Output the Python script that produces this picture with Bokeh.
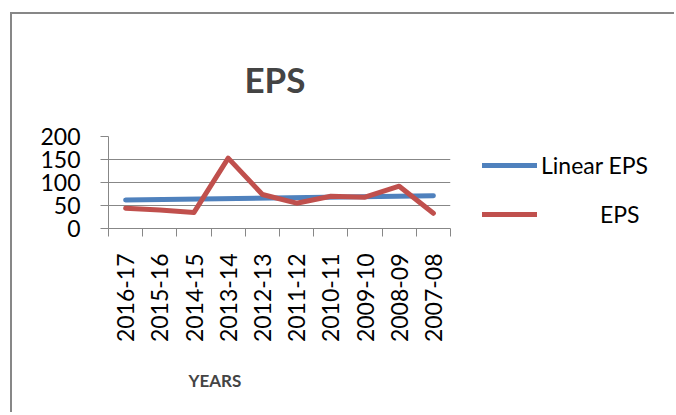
import math
from bokeh.plotting import figure
from bokeh.layouts import row
from bokeh.models import Range1d, FixedTicker, Legend, LegendItem, Title
from bokeh.embed import file_html
from bokeh.resources import INLINE

years = ["2016-17", "2015-16", "2014-15", "2013-14", "2012-13",
         "2011-12", "2010-11", "2009-10", "2008-09", "2007-08"]
eps = [44, 40, 35, 153, 74, 55, 70, 68, 92, 33]
trend_years = ["2016-17", "2007-08"]
trend_eps = [62, 71]
y_ticks = [0, 50, 100, 150, 200]
legend_labels = ["Linear EPS", "\u00a0" * 10 + "EPS"]

pos = {y: i + 0.5 for i, y in enumerate(years)}
GRAY = "#878787"
BLUE = "#4F81BD"
RED = "#C0504D"
FONT = "Lato"

p = figure(width=442, height=398, x_range=Range1d(0, len(years)), y_range=Range1d(0, 200),
           output_backend="svg", toolbar_location=None,
           min_border_left=96, min_border_top=122, min_border_right=4, min_border_bottom=179)
p.outline_line_color = None
p.background_fill_color = "white"

p.line([pos[y] for y in trend_years], trend_eps, line_color=BLUE, line_width=5, line_cap="round")
p.line([pos[y] for y in years], eps, line_color=RED, line_width=5,
       line_join="round", line_cap="round")

# axes
xa = p.xaxis[0]
xa.ticker = FixedTicker(ticks=[pos[y] for y in years], minor_ticks=list(range(len(years) + 1)))
xa.major_label_overrides = {pos[y]: y for y in years}
xa.major_label_orientation = math.pi / 2
xa.major_tick_out = 0
xa.major_tick_in = 0
xa.minor_tick_out = 8
xa.minor_tick_in = 0
xa.minor_tick_line_color = GRAY
xa.axis_line_color = GRAY
xa.major_label_text_font = FONT
xa.major_label_text_font_size = "23px"
xa.major_label_text_color = "black"
xa.major_label_standoff = 17

ya = p.yaxis[0]
ya.ticker = FixedTicker(ticks=y_ticks, minor_ticks=[])
ya.major_tick_out = 8
ya.major_tick_in = 0
ya.major_tick_line_color = GRAY
ya.axis_line_color = GRAY
ya.major_label_text_font = FONT
ya.major_label_text_font_size = "23px"
ya.major_label_text_color = "black"
ya.major_label_standoff = 20

p.xgrid.visible = False
p.ygrid.ticker = FixedTicker(ticks=y_ticks)
p.ygrid.grid_line_color = GRAY
p.ygrid.grid_line_width = 1

# titles
p.add_layout(Title(text="EPS", align="left", offset=136, standoff=70, vertical_align="top",
                   text_font=FONT, text_font_size="35px", text_font_style="bold"), "above")
p.add_layout(Title(text="YEARS", align="left", offset=80, standoff=44,
                   text_font=FONT, text_font_size="17px", text_font_style="bold"), "below")

# legend area to the right of the chart; its lines lie outside its view
lg = figure(width=220, height=398, output_backend="svg", toolbar_location=None,
            x_range=Range1d(0, len(years)), y_range=Range1d(1000, 1001),
            min_border_left=28, min_border_right=0, min_border_top=122, min_border_bottom=179)
lg.axis.visible = False
lg.grid.visible = False
lg.outline_line_color = None
l_trend = lg.line([pos[y] for y in trend_years], trend_eps, line_color=BLUE, line_width=5,
                  line_cap="round")
l_eps = lg.line([pos[y] for y in years], eps, line_color=RED, line_width=5, line_cap="round")
legend = Legend(items=[LegendItem(label=legend_labels[0], renderers=[l_trend]),
                       LegendItem(label=legend_labels[1], renderers=[l_eps])],
                location="bottom_left", spacing=21, margin=0,
                glyph_width=55, glyph_height=20, label_height=20, label_standoff=4,
                padding=0, border_line_color=None, background_fill_alpha=0,
                label_text_font=FONT, label_text_font_size="23px", label_text_color="black")
lg.add_layout(legend, "center")

layout = row(p, lg, spacing=0,
             styles={"margin-left": "10px", "margin-top": "12px",
                     "border-left": "2px solid #878787", "border-top": "2px solid #878787"})

open("out.html", "w").write(file_html(layout, INLINE))
